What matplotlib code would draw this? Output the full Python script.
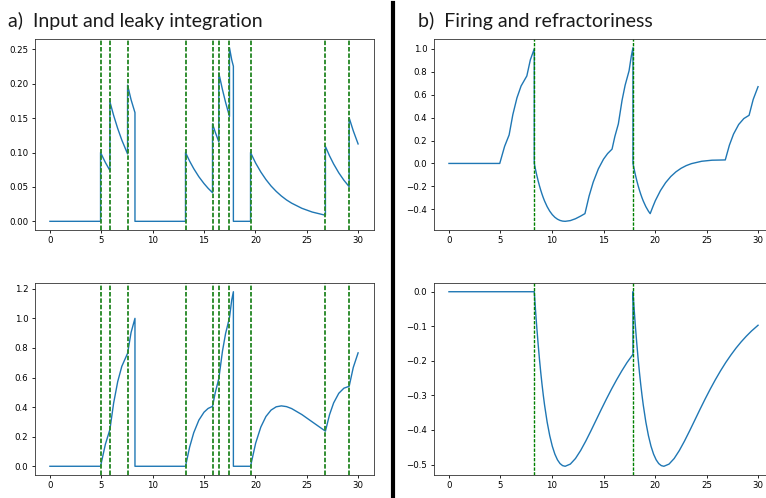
import matplotlib
matplotlib.use('Agg')
import matplotlib.pyplot as plt
from matplotlib.lines import Line2D

# ==================== data ====================
# input spike times (green dashed lines, left panels)
INPUT_SPIKES = [4.93, 5.84, 7.56, 13.2, 15.83, 16.44, 17.48, 19.53, 26.82, 29.13]
# output firing times (green dashed lines, right panels)
FIRE_TIMES = [8.28, 17.86]

# a) top: synaptic input current (t, value)
CURRENT = [(0, 0), (4.93, 0), (4.93, 0.1), (5.4, 0.0855), (5.84, 0.0738),
           (5.84, 0.1738), (6.2, 0.1541), (6.6, 0.1349), (7.0, 0.1181), (7.56, 0.098),
           (7.56, 0.198), (7.9, 0.1768), (8.28, 0.158), (8.28, 0), (13.2, 0),
           (13.2, 0.1), (13.6, 0.0875), (14.0, 0.0766), (14.5, 0.0648), (15.0, 0.0549),
           (15.4, 0.048), (15.83, 0.0416), (15.83, 0.1416), (16.1, 0.1294), (16.44, 0.1156),
           (16.44, 0.2156), (16.8, 0.1912), (17.1, 0.173), (17.48, 0.1524),
           (17.48, 0.2524), (17.7, 0.2346), (17.86, 0.2254), (17.86, 0), (19.53, 0),
           (19.53, 0.1), (20.03, 0.0846), (20.53, 0.0717), (21.03, 0.0607), (21.53, 0.0513),
           (22.03, 0.0435), (22.53, 0.0368), (23.03, 0.0311), (23.53, 0.0264),
           (24.53, 0.0189), (25.53, 0.0135), (26.82, 0.0088),
           (26.82, 0.1088), (27.22, 0.0952), (27.62, 0.0833), (28.12, 0.0705),
           (28.62, 0.0597), (29.13, 0.0504), (29.13, 0.1504), (29.53, 0.1316), (30.0, 0.1125)]

# a) bottom: leaky integrated potential
POTENTIAL = [(0, 0), (4.93, 0), (5.4, 0.1487), (5.84, 0.2486), (6.2, 0.4259), (6.6, 0.5723),
             (7.0, 0.6757), (7.56, 0.7636), (7.9, 0.9042), (8.28, 1.0), (8.28, 0), (13.2, 0),
             (13.6, 0.1295), (14.0, 0.2267), (14.5, 0.3119), (15.0, 0.3655), (15.4, 0.391),
             (15.83, 0.405), (16.1, 0.4994), (16.44, 0.5914), (16.8, 0.7792), (17.1, 0.897),
             (17.48, 1.0047), (17.7, 1.1246), (17.86, 1.18), (17.86, 0), (19.53, 0),
             (20.03, 0.1566), (20.53, 0.2651), (21.03, 0.3366), (21.53, 0.3799),
             (22.03, 0.402), (22.53, 0.4083), (23.03, 0.4033), (23.53, 0.3901),
             (24.53, 0.3494), (25.53, 0.3004), (26.82, 0.2374), (27.22, 0.3487),
             (27.62, 0.4285), (28.12, 0.4933), (28.62, 0.528), (29.13, 0.5405),
             (29.53, 0.6679), (30.0, 0.7667)]

# b) top: potential incl. refractory term
FIRING = [(0, 0), (4.93, 0), (5.4, 0.1487), (5.84, 0.2486), (6.2, 0.4259), (6.6, 0.5723),
          (7.0, 0.6757), (7.56, 0.7636), (7.9, 0.9042), (8.28, 1.0), (8.28, 0),
          (8.33, -0.0225), (8.38, -0.0443), (8.455, -0.0755), (8.53, -0.1052),
          (8.655, -0.1514), (8.78, -0.1937), (8.905, -0.2322), (9.03, -0.2673),
          (9.155, -0.2991), (9.28, -0.3279), (9.53, -0.3771), (9.78, -0.4163),
          (10.03, -0.4469), (10.28, -0.4699), (10.53, -0.4863), (10.78, -0.4972),
          (11.03, -0.5031), (11.28, -0.505), (11.78, -0.4987), (12.28, -0.4825),
          (12.78, -0.4594), (13.2, -0.4378), (13.6, -0.285),
          (14.0, -0.1634), (14.5, -0.0473), (15.0, 0.037), (15.4, 0.0862), (15.83, 0.125),
          (16.1, 0.2343), (16.44, 0.3444), (16.8, 0.5504), (17.1, 0.6827), (17.48, 0.8077),
          (17.7, 0.9372), (17.86, 1.01), (17.86, 0), (17.91, -0.0225), (17.96, -0.0443),
          (18.035, -0.0755), (18.11, -0.1052), (18.235, -0.1514), (18.36, -0.1937),
          (18.485, -0.2322), (18.61, -0.2673), (18.735, -0.2991), (18.86, -0.3279),
          (19.11, -0.3771), (19.36, -0.4163), (19.53, -0.438), (19.78, -0.3800),
          (20.03, -0.3251), (20.53, -0.2366), (21.03, -0.1676),
          (21.53, -0.1142), (22.03, -0.0733), (22.53, -0.0422), (23.03, -0.0189),
          (23.53, -0.0019), (24.53, 0.019), (25.53, 0.0282), (26.82, 0.0306),
          (27.22, 0.1596), (27.62, 0.256), (28.12, 0.3397), (28.62, 0.3916), (29.13, 0.42),
          (29.53, 0.5587), (30.0, 0.6697)]

# b) bottom: refractory kernel
REFRACTORY = [(0, 0), (8.28, 0), (8.33, -0.0225), (8.38, -0.0443), (8.455, -0.0755),
              (8.53, -0.1052), (8.655, -0.1514), (8.78, -0.1937), (8.905, -0.2322),
              (9.03, -0.2673), (9.155, -0.2991), (9.28, -0.3279), (9.53, -0.3771),
              (9.78, -0.4163), (10.03, -0.4469), (10.28, -0.4699), (10.53, -0.4863),
              (10.78, -0.4972), (11.03, -0.5031), (11.28, -0.505), (11.78, -0.4987),
              (12.28, -0.4825), (12.78, -0.4594), (13.28, -0.4321), (13.78, -0.4024),
              (14.28, -0.3716), (14.78, -0.3407), (15.28, -0.3106), (15.78, -0.2817),
              (16.28, -0.2544), (16.78, -0.2288), (17.28, -0.205), (17.86, -0.181),
              (17.86, 0), (17.91, -0.0225), (17.96, -0.0443), (18.035, -0.0755),
              (18.11, -0.1052), (18.235, -0.1514), (18.36, -0.1937), (18.485, -0.2322),
              (18.61, -0.2673), (18.735, -0.2991), (18.86, -0.3279), (19.11, -0.3771),
              (19.36, -0.4163), (19.61, -0.4469), (19.86, -0.4699), (20.11, -0.4863),
              (20.36, -0.4972), (20.61, -0.5031), (20.86, -0.505), (21.36, -0.4987),
              (21.86, -0.4825), (22.36, -0.4594), (22.86, -0.4321), (23.36, -0.4024),
              (23.86, -0.3716), (24.36, -0.3407), (24.86, -0.3106), (25.36, -0.2817),
              (25.86, -0.2544), (26.36, -0.2288), (26.86, -0.205), (27.36, -0.1833),
              (27.86, -0.1632), (28.36, -0.1451), (28.86, -0.1287), (29.36, -0.1138),
              (30.0, -0.097)]

# ==================== style ====================
plt.rcParams.update({'font.size': 6.2, 'axes.linewidth': 0.6,
                     'xtick.major.size': 2.4, 'ytick.major.size': 2.4,
                     'xtick.major.width': 0.6, 'ytick.major.width': 0.6,
                     'xtick.major.pad': 2.0, 'ytick.major.pad': 2.0,
                     'axes.edgecolor': '#333333'})

W, H = 766, 498
fig = plt.figure(figsize=(W / 100, H / 100), dpi=100)


def add_ax(x0, y_top, x1, y_bot):
    return fig.add_axes([x0 / W, 1 - y_bot / H, (x1 - x0) / W, (y_bot - y_top) / H])


def draw(ax, pts, vlines, vcolor, vlw):
    t = [p[0] for p in pts]
    v = [p[1] for p in pts]
    ax.plot(t, v, color='#1f77b4', lw=1.0)
    for s in vlines:
        ax.axvline(s, color=vcolor, lw=vlw, ls=(0, (2.4, 1.0)))
    ax.set_xticks([0, 5, 10, 15, 20, 25, 30])


ax1 = add_ax(34.5, 39, 373.5, 230)
draw(ax1, CURRENT, INPUT_SPIKES, '#2a8a2a', 1.35)
ax1.set_yticks([0.0, 0.05, 0.10, 0.15, 0.20, 0.25])

ax2 = add_ax(34.5, 283, 373.5, 475)
draw(ax2, POTENTIAL, INPUT_SPIKES, '#2a8a2a', 1.35)

ax3 = add_ax(433.5, 39, 773.5, 230)
draw(ax3, FIRING, FIRE_TIMES, 'g', 1.0)

ax4 = add_ax(433.5, 283, 773.5, 475)
draw(ax4, REFRACTORY, FIRE_TIMES, 'g', 1.0)

# panel titles
title_font = ['Lato', 'DejaVu Sans']
fig.text(8 / W, 1 - 21 / H, 'a)  Input and leaky integration', fontsize=14,
         family=title_font, ha='left', va='center', color='#1a1a1a')
fig.text(418 / W, 1 - 21 / H, 'b)  Firing and refractoriness', fontsize=14,
         family=title_font, ha='left', va='center', color='#1a1a1a')

# thick separator
fig.add_artist(Line2D([392.5 / W, 392.5 / W], [0, 1 - 3 / H], color='black', lw=3.0,
                      transform=fig.transFigure))

fig.savefig('out.png', dpi=100)
